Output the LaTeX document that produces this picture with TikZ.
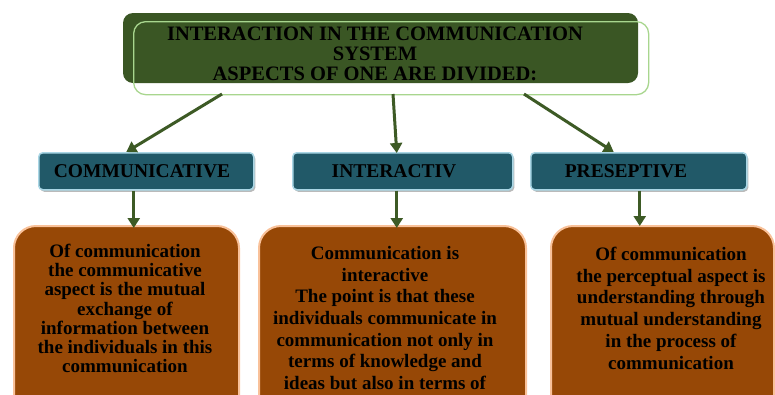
\documentclass[tikz,border=0pt]{standalone}
\usepackage{fontspec}
\setmainfont{Liberation Serif}
\usetikzlibrary{arrows.meta,shadows}
\definecolor{darkgreen}{HTML}{3A5624}
\definecolor{lightgreen}{HTML}{A8D68E}
\definecolor{arrowgreen}{HTML}{3D5A25}
\definecolor{tealfill}{HTML}{215968}
\definecolor{tealborder}{HTML}{A9D6E5}
\definecolor{brownfill}{HTML}{974806}
\definecolor{brownborder}{HTML}{F9C199}
\tikzset{
  titlebox/.style={fill=darkgreen, rounded corners=10pt, draw=none},
  titleline/.style={draw=lightgreen, line width=1.3pt, rounded corners=12pt},
  aspectbox/.style={fill=tealfill, draw=tealborder, line width=1.5pt, rounded corners=4pt,
    drop shadow={shadow xshift=1.5pt, shadow yshift=-2pt, fill=black!45, opacity=0.6}},
  aspecttext/.style={font=\bfseries\fontsize{19.5}{20}\selectfont, text=black, inner sep=0pt, anchor=base},
  descbox/.style={fill=brownfill, draw=brownborder, line width=2pt, rounded corners=22pt},
  desctext/.style={font=\bfseries\fontsize{19}{21.7}\selectfont, text=black, align=center, inner sep=0pt, anchor=north},
  link/.style={draw=arrowgreen, line width=3pt, -{Triangle[width=12pt,length=10pt]}},
}
\begin{document}
\begin{tikzpicture}[x=1pt,y=-1pt]
\useasboundingbox (0,0) rectangle (775,394);
\fill[white] (0,0) rectangle (775,394);
\clip (0,0) rectangle (775,394);
% title
\path[titlebox] (123,13) rectangle (638,83);
\node[titleline, minimum width=515pt, minimum height=73pt, anchor=north west, inner sep=0pt] (outline) at (133,21) {};
\node[font=\bfseries\fontsize{20.5}{20}\selectfont, align=center, inner sep=0pt, anchor=north] (title) at (375,27)
  {INTERACTION IN THE COMMUNICATION\\SYSTEM\\ASPECTS OF ONE ARE DIVIDED:};
% aspect boxes
\node[aspectbox, minimum width=215pt, minimum height=37pt, anchor=north west, inner sep=0pt] (comm) at (38,152) {};
\node[aspectbox, minimum width=220pt, minimum height=37pt, anchor=north west, inner sep=0pt] (inter) at (292,152) {};
\node[aspectbox, minimum width=216pt, minimum height=37pt, anchor=north west, inner sep=0pt] (pres) at (530,152) {};
\node[aspecttext] (commt) at (142,177) {COMMUNICATIVE};
\node[aspecttext] (intert) at (394,177) {INTERACTIV};
\node[aspecttext] (prest) at (626,177) {PRESEPTIVE};
% description boxes
\node[descbox, minimum width=225pt, minimum height=200pt, anchor=north west, inner sep=0pt] (d1) at (13,225) {};
\node[descbox, minimum width=267pt, minimum height=200pt, anchor=north west, inner sep=0pt] (d2) at (258,225) {};
\node[descbox, minimum width=223pt, minimum height=200pt, anchor=north west, inner sep=0pt] (d3) at (550,225) {};
\node[desctext, font=\bfseries\fontsize{19}{19.2}\selectfont] (d1t) at (125,244)
  {Of communication\\the communicative\\aspect is the mutual\\exchange of\\information between\\the individuals in this\\communication};
\node[desctext] (d2t) at (385,246)
  {Communication is\\interactive\\The point is that these\\individuals communicate in\\communication not only in\\terms of knowledge and\\ideas but also in terms of};
\node[desctext] (d3t) at (671,247)
  {Of communication\\the perceptual aspect is\\understanding through\\mutual understanding\\in the process of\\communication};
% connectors
\coordinate (s1) at (222,94);
\coordinate (s2) at (393,94);
\coordinate (s3) at (524,94);
\draw[link] (s1) -- ([xshift=-20pt]comm.north);
\draw[link] (s2) -- ([xshift=-6pt,yshift=-1pt]inter.north);
\draw[link] (s3) -- ([xshift=-25pt]pres.north);
\coordinate (b1) at ([xshift=-12.5pt]comm.south);
\coordinate (b2) at ([xshift=-6pt]inter.south);
\coordinate (b3) at ([xshift=1pt]pres.south);
\draw[link] (b1) -- ([yshift=-3pt]b1 |- d1.north);
\draw[link] (b2) -- ([yshift=-3pt]b2 |- d2.north);
\draw[link] (b3) -- ([yshift=-1pt]b3 |- d3.north);
\end{tikzpicture}
\end{document}
